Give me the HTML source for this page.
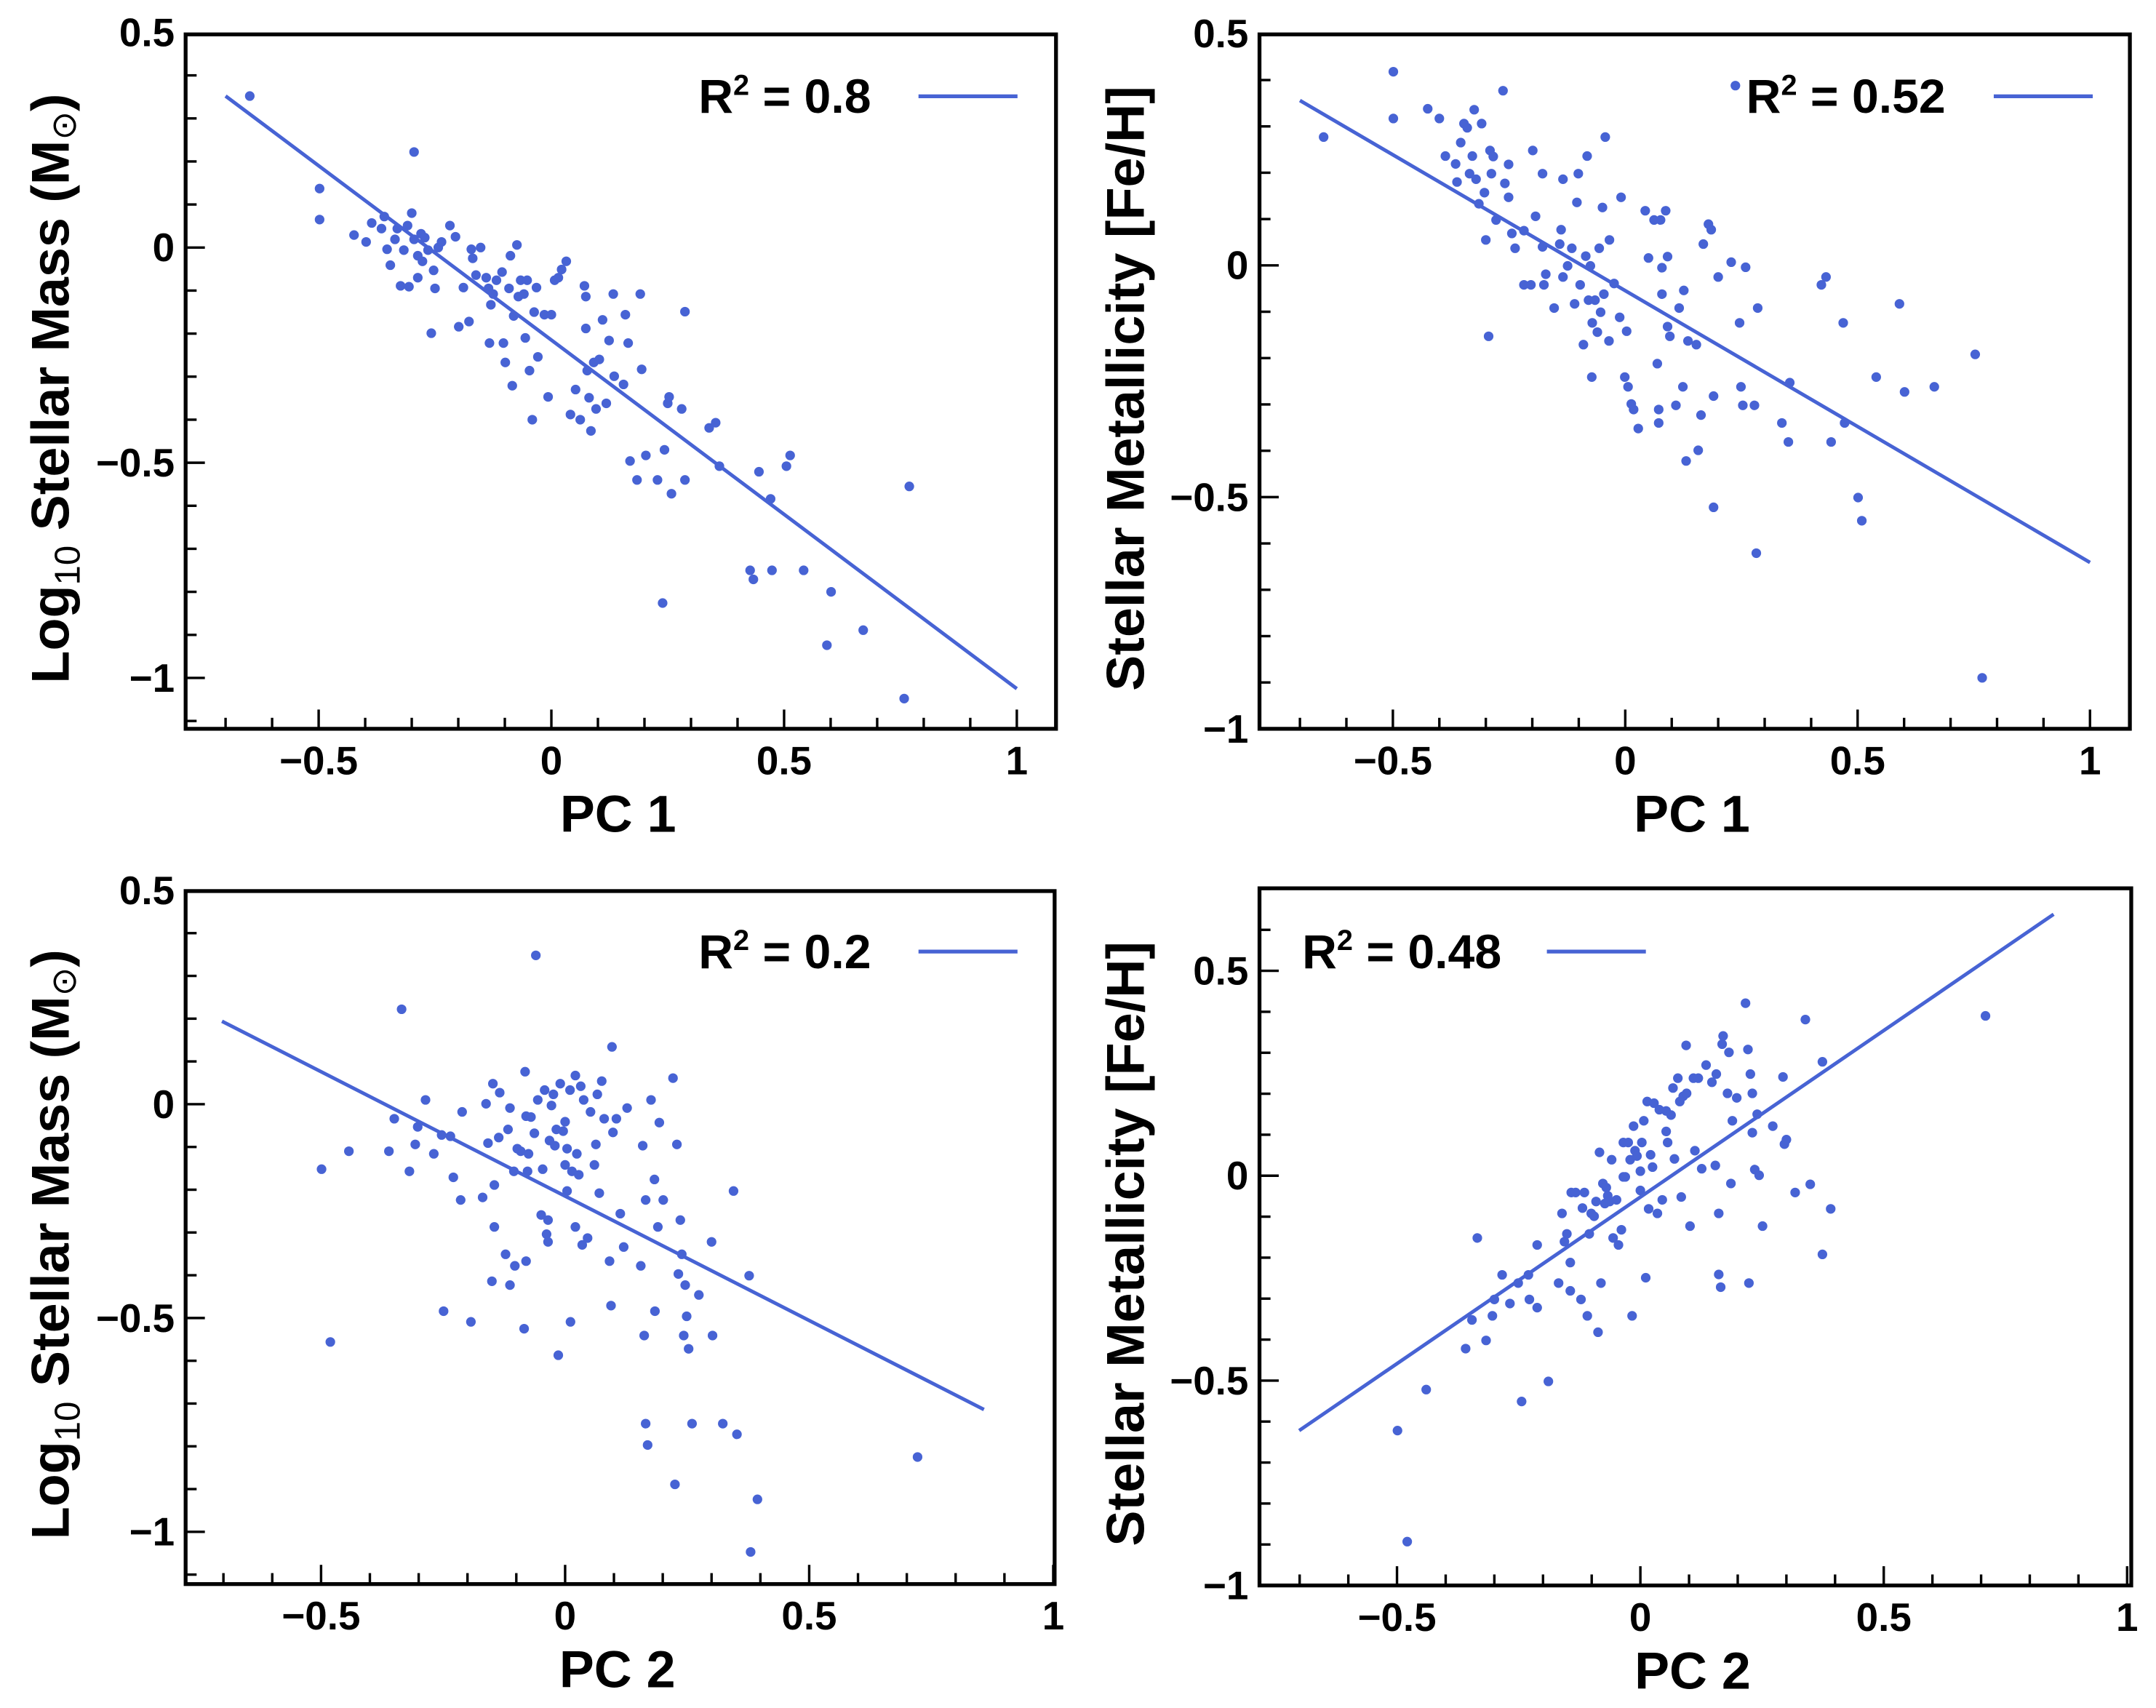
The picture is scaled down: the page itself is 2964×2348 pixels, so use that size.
<!DOCTYPE html>
<html><head><meta charset="utf-8">
<style>
html,body{margin:0;padding:0;background:#fff;}
svg{display:block;}
text{font-family:"Liberation Sans",sans-serif;font-weight:bold;fill:#000;}
</style></head>
<body>
<svg id="fig" xmlns="http://www.w3.org/2000/svg" width="2964" height="2348" viewBox="0 0 1568 1242.1"></svg>
<script>
// ---- Panel 1: PC1 vs log stellar mass ----
const p1X=[-0.648,-0.498,-0.498,-0.295,-0.424,-0.398,-0.386,-0.365,-0.359,-0.353,-0.346,-0.336,-0.331,-0.324,-0.317,-0.309,-0.306,-0.300,-0.295,-0.287,-0.287,-0.280,-0.277,-0.272,-0.265,-0.258,-0.253,-0.250,-0.243,-0.236,-0.218,-0.206,-0.199,-0.189,-0.177,-0.172,-0.169,-0.162,-0.152,-0.140,-0.135,-0.133,-0.130,-0.125,-0.118,-0.106,-0.103,-0.099,-0.091,-0.088,-0.084,-0.081,-0.074,-0.071,-0.066,-0.059,-0.056,-0.052,-0.047,-0.041,-0.037,-0.032,-0.029,-0.015,-0.007,0,0.007,0.015,0.022,0.032,0.041,0.052,0.062,0.071,0.074,0.074,0.077,0.081,0.085,0.091,0.096,0.103,0.110,0.118,0.124,0.133,0.135,0.155,0.159,0.165,0.169,0.184,0.191,0.194,0.203,0.228,0.243,0.250,0.253,0.258,0.280,0.287,0.287,0.339,0.353,0.361,0.446,0.471,0.505,0.513,0.427,0.434,0.474,0.542,0.239,0.601,0.592,0.670,0.758,0.769];
const p1Y=[0.352,0.137,0.065,0.222,0.029,0.013,0.057,0.044,0.072,-0.004,-0.041,0.019,0.044,-0.089,-0.006,0.051,-0.091,0.080,0.019,-0.019,-0.070,0.032,-0.032,0.023,-0.006,-0.199,-0.053,-0.095,0,0.013,0.051,0.025,-0.184,-0.093,-0.172,-0.004,-0.025,-0.064,0,-0.070,-0.095,-0.222,-0.133,-0.108,-0.076,-0.057,-0.222,-0.267,-0.095,-0.019,-0.321,-0.159,0.006,-0.114,-0.076,-0.108,-0.210,-0.076,-0.286,-0.400,-0.150,-0.093,-0.254,-0.156,-0.347,-0.156,-0.076,-0.070,-0.051,-0.032,-0.388,-0.330,-0.400,-0.089,-0.114,-0.188,-0.286,-0.349,-0.426,-0.267,-0.375,-0.260,-0.168,-0.362,-0.216,-0.108,-0.299,-0.318,-0.156,-0.222,-0.496,-0.540,-0.108,-0.283,-0.483,-0.540,-0.470,-0.362,-0.347,-0.572,-0.375,-0.540,-0.149,-0.419,-0.407,-0.508,-0.521,-0.584,-0.508,-0.483,-0.750,-0.771,-0.750,-0.750,-0.826,-0.800,-0.924,-0.889,-1.048,-0.555];
const p1Fit=[[-0.70,0.352],[1.0,-1.025]];
// ---- Panel 2: PC1 vs metallicity ----
const p2X=[-0.649,-0.499,-0.499,-0.425,-0.400,-0.387,-0.365,-0.362,-0.354,-0.347,-0.340,-0.335,-0.329,-0.325,-0.321,-0.315,-0.309,-0.303,-0.300,-0.294,-0.291,-0.288,-0.284,-0.278,-0.263,-0.259,-0.251,-0.251,-0.244,-0.237,-0.218,-0.218,-0.203,-0.199,-0.193,-0.178,-0.178,-0.175,-0.171,-0.153,-0.141,-0.138,-0.134,-0.134,-0.124,-0.115,-0.109,-0.104,-0.101,-0.097,-0.090,-0.085,-0.082,-0.079,-0.075,-0.072,-0.071,-0.065,-0.060,-0.056,-0.053,-0.049,-0.046,-0.043,-0.035,-0.034,-0.024,-0.012,-0.009,-0.001,0.003,0.006,0.013,0.018,0.028,0.043,0.050,0.062,0.069,0.072,0.072,0.076,0.079,0.079,0.087,0.091,0.091,0.096,0.109,0.116,0.124,0.126,0.131,0.135,0.153,0.157,0.163,0.168,0.179,0.185,0.190,0.190,0.200,0.228,0.237,0.246,0.249,0.253,0.259,0.278,0.282,0.285,0.337,0.351,0.354,0.422,0.432,0.443,0.469,0.472,0.501,0.509,0.540,0.590,0.601,0.665,0.753,0.768];
const p2Y=[0.277,0.418,0.317,0.338,0.317,0.236,0.219,0.180,0.265,0.306,0.297,0.198,0.236,0.336,0.186,0.133,0.306,0.157,0.055,-0.153,0.248,0.198,0.235,0.098,0.377,0.177,0.218,0.147,0.069,0.037,0.075,-0.042,-0.042,0.248,0.106,0.198,0.040,-0.042,-0.019,-0.092,0.046,0.077,0.186,-0.025,-0.001,0.037,-0.083,0.136,0.198,-0.042,-0.171,0.020,0.236,-0.075,-0.001,-0.241,-0.124,-0.075,-0.144,0.037,-0.101,0.125,-0.062,0.277,-0.163,0.055,-0.039,-0.112,0.147,-0.241,-0.142,-0.262,-0.299,-0.311,-0.352,0.118,0.016,0.098,-0.212,-0.311,-0.340,0.098,-0.005,-0.062,0.118,0.019,-0.132,-0.153,-0.302,-0.092,-0.262,-0.054,-0.422,-0.163,-0.171,-0.399,-0.323,0.046,0.089,0.077,-0.282,-0.522,-0.025,0.007,0.388,-0.124,-0.262,-0.302,-0.004,-0.302,-0.621,-0.092,-0.340,-0.381,-0.253,-0.042,-0.025,-0.381,-0.124,-0.340,-0.501,-0.551,-0.241,-0.083,-0.273,-0.262,-0.192,-0.890];
const p2Fit=[[-0.70,0.356],[1.0,-0.641]];
// ---- Panel 3: PC2 vs log stellar mass ----
const p3X=[-0.499,-0.481,-0.443,-0.361,-0.350,-0.335,-0.319,-0.307,-0.302,-0.286,-0.269,-0.249,-0.253,-0.235,-0.229,-0.214,-0.211,-0.193,-0.169,-0.162,-0.158,-0.150,-0.148,-0.145,-0.145,-0.136,-0.134,-0.122,-0.117,-0.113,-0.113,-0.105,-0.103,-0.098,-0.091,-0.084,-0.082,-0.080,-0.080,-0.077,-0.075,-0.070,-0.063,-0.060,-0.056,-0.049,-0.046,-0.042,-0.038,-0.035,-0.035,-0.032,-0.028,-0.024,-0.021,-0.018,-0.014,-0.010,-0.004,0,0,0.004,0.004,0.010,0.011,0.014,0.021,0.021,0.024,0.028,0.032,0.035,0.038,0.046,0.052,0.060,0.063,0.066,0.070,0.075,0.080,0.091,0.094,0.096,0.098,0.105,0.113,0.120,0.127,0.155,0.159,0.162,0.165,0.165,0.169,0.176,0.183,0.184,0.190,0.193,0.201,0.221,0.225,0.229,0.232,0.236,0.239,0.243,0.246,0.249,0.253,0.260,0.274,0.300,0.302,0.323,0.345,0.352,0.377,0.380,0.394,0.722];
const p3Y=[-0.152,-0.556,-0.110,-0.110,-0.034,0.222,-0.157,-0.094,-0.053,0.010,-0.116,-0.484,-0.072,-0.075,-0.171,-0.224,-0.018,-0.509,-0.218,0.001,-0.091,-0.414,0.048,-0.189,-0.287,-0.078,0.027,-0.351,-0.059,-0.009,-0.423,-0.157,-0.378,-0.104,-0.110,-0.525,0.076,-0.028,-0.367,-0.157,-0.116,-0.030,-0.068,0.348,0.010,-0.259,-0.152,0.033,-0.304,-0.271,-0.322,-0.085,-0.003,0.023,-0.097,-0.059,-0.587,0.048,-0.063,-0.041,-0.142,-0.104,-0.203,0.033,-0.509,-0.157,0.067,-0.287,-0.116,-0.165,0.042,-0.329,0.010,-0.313,-0.018,-0.142,-0.094,0.023,-0.208,0.054,-0.034,-0.367,-0.471,0.134,-0.066,-0.034,-0.256,-0.334,-0.009,-0.378,-0.097,-0.541,-0.224,-0.747,-0.797,0.010,-0.176,-0.484,-0.287,-0.043,-0.224,0.061,-0.889,-0.094,-0.397,-0.271,-0.351,-0.541,-0.423,-0.496,-0.572,-0.747,-0.446,-0.322,-0.541,-0.747,-0.203,-0.772,-0.401,-1.047,-0.924,-0.825];
const p3Fit=[[-0.703,0.194],[0.858,-0.714]];
// ---- Panel 4: PC2 vs metallicity ----
const p4X=[-0.499,-0.479,-0.440,-0.359,-0.335,-0.346,-0.317,-0.304,-0.300,-0.284,-0.268,-0.251,-0.244,-0.230,-0.228,-0.212,-0.212,-0.189,-0.168,-0.161,-0.156,-0.151,-0.144,-0.144,-0.142,-0.133,-0.122,-0.119,-0.115,-0.109,-0.105,-0.101,-0.095,-0.091,-0.087,-0.084,-0.081,-0.077,-0.073,-0.070,-0.067,-0.063,-0.059,-0.056,-0.049,-0.045,-0.039,-0.035,-0.035,-0.031,-0.025,-0.021,-0.017,-0.014,-0.011,-0.007,0,0,0.003,0.007,0.011,0.014,0.017,0.021,0.025,0.028,0.035,0.039,0.045,0.053,0.053,0.056,0.063,0.067,0.070,0.077,0.081,0.084,0.088,0.094,0.095,0.102,0.109,0.112,0.119,0.126,0.135,0.147,0.154,0.156,0.161,0.161,0.165,0.168,0.170,0.179,0.182,0.186,0.189,0.198,0.216,0.221,0.223,0.226,0.230,0.230,0.235,0.240,0.244,0.251,0.272,0.293,0.296,0.300,0.318,0.339,0.349,0.374,0.374,0.391,0.709];
const p4Y=[-0.622,-0.893,-0.522,-0.422,-0.152,-0.352,-0.402,-0.342,-0.302,-0.242,-0.312,-0.262,-0.551,-0.242,-0.302,-0.169,-0.322,-0.502,-0.262,-0.092,-0.161,-0.142,-0.212,-0.281,-0.041,-0.041,-0.302,-0.079,-0.041,-0.342,-0.142,-0.092,-0.099,-0.063,-0.382,0.057,-0.262,-0.019,-0.068,-0.029,-0.049,-0.063,0.039,-0.152,-0.059,-0.169,-0.132,0.081,-0.003,-0.003,0.081,0.039,-0.342,0.121,0.061,0.048,0.011,-0.036,0.081,0.134,-0.249,0.181,-0.081,0.051,0.021,0.177,-0.092,0.161,-0.059,0.158,0.108,0.081,0.148,0.214,0.041,0.238,0.181,-0.052,0.194,0.318,0.201,-0.123,0.238,0.061,0.238,0.017,0.270,0.228,0.025,0.248,-0.092,-0.241,-0.272,0.321,0.341,0.201,0.301,-0.019,0.134,0.190,0.421,0.308,-0.262,0.248,0.105,0.201,0.015,0.150,0.001,-0.123,0.121,0.241,0.077,0.088,-0.041,0.381,-0.021,-0.192,0.278,-0.081,0.390];
const p4Fit=[[-0.701,-0.622],[0.849,0.638]];

const xTicks=[-0.5,0,0.5,1];
const xTickLabels=["\u22120.5","0","0.5","1"];
const yTicksA=[0.5,0,-0.5,-1];
const yTickLabelsA=["0.5","0","\u22120.5","\u22121"];
const yTicksB=[0.5,0,-0.5,-1];
const yTickLabelsB=["0.5","0","\u22120.5","\u22121"];

const NS="http://www.w3.org/2000/svg";
const svg=document.getElementById('fig');
const BLUE="#4763d4";
function mk(tag,attrs,parent){const e=document.createElementNS(NS,tag);for(const k in attrs)e.setAttribute(k,attrs[k]);(parent||svg).appendChild(e);return e;}

function panel(cfg){
  const g=mk('g',{});
  
  
  const L=cfg.box[0],R=cfg.box[1],T=cfg.box[2],B=cfg.box[3];
  const xs=v=>cfg.x0+(v-0)*cfg.xu;
  const ys=v=>cfg.y0-(v-0)*cfg.yu;
  const xmin=(L-cfg.x0)/cfg.xu, xmax=(R-cfg.x0)/cfg.xu;
  const ymin=(cfg.y0-B)/cfg.yu, ymax=(cfg.y0-T)/cfg.yu;
  for(let i=Math.ceil(xmin*10);i<=Math.floor(xmax*10);i++){
    const v=i/10, major=(i%5===0);
    const t=mk('line',{x1:xs(v),x2:xs(v),y1:B,y2:B-(major?14:8),stroke:'#000','stroke-width':1.8},g);
    
    
  }
  for(let i=Math.ceil(ymin*10);i<=Math.floor(ymax*10);i++){
    const v=i/10, major=(i%5===0);
    const t=mk('line',{x1:L,x2:L+(major?14:8),y1:ys(v),y2:ys(v),stroke:'#000','stroke-width':1.8},g);
    
    
  }
  xTicks.forEach((v,i)=>{
    const t=mk('text',{x:xs(v),y:B+33,'font-size':29,'text-anchor':'middle'},g);
    t.textContent=xTickLabels[i];
    
    
  });
  cfg.yt.forEach((v,i)=>{
    if(v<ymin-0.01||v>ymax+0.01) return;
    const t=mk('text',{x:L-8,y:ys(v)+10,'font-size':29,'text-anchor':'end'},g);
    t.textContent=cfg.ytl[i];
    
    
  });
  const cp=mk('clipPath',{id:cfg.name+'-clip'},g);
  mk('rect',{x:L,y:T,width:R-L,height:B-T},cp);
  const pg=mk('g',{'clip-path':'url(#'+cfg.name+'-clip)'},g);
  cfg.px.forEach((v,i)=>{
    const c=mk('circle',{cx:xs(v),cy:ys(cfg.py[i]),r:3.5,fill:BLUE},pg);
    
    
  });
  const fl=mk('line',{x1:xs(cfg.fit[0][0]),y1:ys(cfg.fit[0][1]),x2:xs(cfg.fit[1][0]),y2:ys(cfg.fit[1][1]),stroke:BLUE,'stroke-width':2.6},pg);
  
  
  const box=mk('rect',{x:L,y:T,width:R-L,height:B-T,fill:'none',stroke:'#000','stroke-width':2.8},g);
  
  
  const lt=mk('text',{x:cfg.leg[0],y:cfg.leg[1]+12,'font-size':35},g);
  lt.innerHTML='R<tspan dy="-13" font-size="21">2</tspan><tspan dy="13"> = '+cfg.r2+'</tspan>';
  
  
  const ll=mk('line',{x1:cfg.leg[2],x2:cfg.leg[2]+72,y1:cfg.leg[1],y2:cfg.leg[1],stroke:BLUE,'stroke-width':2.8},g);
  
  
  const xt=mk('text',{x:(L+R)/2-2,y:B+75,'font-size':38,'text-anchor':'middle'},g);
  xt.textContent=cfg.xt;
  
  
  const yx=cfg.ytx, yy=(T+B)/2+5;
  const yt=mk('text',{x:yx,y:yy,'font-size':39,'text-anchor':'middle',transform:'rotate(-90 '+yx+' '+yy+')'},g);
  yt.innerHTML=cfg.ytitle;
  
  
}
const massTitle='Log<tspan font-size="26" font-weight="normal" dy="8">10</tspan><tspan dy="-8"> Stellar Mass (M</tspan><tspan font-size="25" font-weight="normal" dy="5">\u2299</tspan><tspan dy="-5">)</tspan>';
const fehTitle='Stellar Metallicity [Fe/H]';
panel({name:'panel-pc1-mass',box:[135,768,25,530],x0:401,xu:338.5,y0:180,yu:313,yt:yTicksA,ytl:yTickLabelsA,px:p1X,py:p1Y,fit:p1Fit,r2:'0.8',leg:[508,70,668],xt:'PC 1',ytitle:massTitle,ytx:50});
panel({name:'panel-pc1-feh',box:[916,1549,25,530],x0:1182,xu:338,y0:193,yu:337,yt:yTicksB,ytl:yTickLabelsB,px:p2X,py:p2Y,fit:p2Fit,r2:'0.52',leg:[1270,70,1450],xt:'PC 1',ytitle:fehTitle,ytx:832});
panel({name:'panel-pc2-mass',box:[135,767,648,1152],x0:411,xu:355,y0:803,yu:311,yt:yTicksA,ytl:yTickLabelsA,px:p3X,py:p3Y,fit:p3Fit,r2:'0.2',leg:[508,692,668],xt:'PC 2',ytitle:massTitle,ytx:50});
panel({name:'panel-pc2-feh',box:[916,1550,646,1153],x0:1193,xu:354,y0:855,yu:298,yt:yTicksB,ytl:yTickLabelsB,px:p4X,py:p4Y,fit:p4Fit,r2:'0.48',leg:[947,692,1125],xt:'PC 2',ytitle:fehTitle,ytx:832});
</script>
</body></html>
